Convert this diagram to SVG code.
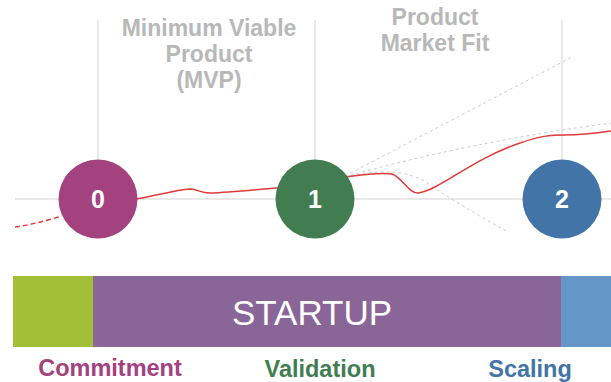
<svg xmlns="http://www.w3.org/2000/svg" width="611" height="382" viewBox="0 0 611 382">
<style>
.grid{stroke:#E2E2E2;stroke-width:1.5;fill:none}
.hint{stroke:#CCCCCC;stroke-width:1;stroke-dasharray:3 3;fill:none}
.curve{stroke:#E03A3A;stroke-width:1.5;fill:none}
.title{font-family:"Liberation Sans",Arial,sans-serif;font-weight:bold;font-size:23px;fill:#B8B8B8;text-anchor:middle}
.num{font-family:"Liberation Sans",Arial,sans-serif;font-weight:bold;font-size:25px;fill:#FFFFFF;text-anchor:middle}
.phase{font-family:"Liberation Sans",Arial,sans-serif;font-weight:bold;font-size:23.5px;text-anchor:middle}
</style>
<rect width="611" height="382" fill="#FFFFFF"/>
<g id="axes">
<line class="grid" x1="98" y1="20" x2="98" y2="199"/>
<line class="grid" x1="315" y1="20" x2="315" y2="199"/>
<line class="grid" x1="562" y1="20" x2="562" y2="199"/>
<line class="grid" x1="15" y1="199" x2="611" y2="199"/>
</g>
<g id="labels">
<text class="title" x="209" y="36">Minimum Viable</text>
<text class="title" x="209" y="62">Product</text>
<text class="title" x="209" y="88">(MVP)</text>
<text class="title" x="435" y="25">Product</text>
<text class="title" x="435" y="51">Market Fit</text>
</g>
<g id="connectors">
<path class="hint" d="M345 176 L572 57"/>
<path class="hint" d="M345 177 C420 155 520 135 611 123"/>
<path class="hint" d="M345 178 C380 168 410 170 430 185 C460 205 490 222 508 232"/>
<path class="curve" stroke-dasharray="5 3" d="M15 227 C30 225 45 221 62 216"/>
<path class="curve" d="M136 199 C155 196 175 190 190 189 C198 189 200 193 210 193 C235 192 260 189 300 186"/>
<path class="curve" d="M345 177 C360 175 380 172 392 174 C402 177 408 193 418 193 C440 190 470 160 520 143 C540 136 550 135 565 135 C580 135 590 134 611 131"/>
</g>
<g id="node0">
<circle cx="98" cy="199" r="39.5" fill="#A4417F"/>
<text class="num" x="98" y="208">0</text>
</g>
<g id="node1">
<circle cx="315" cy="199" r="39.5" fill="#417D50"/>
<text class="num" x="315" y="208">1</text>
</g>
<g id="node2">
<circle cx="562" cy="199" r="39.5" fill="#4274A8"/>
<text class="num" x="562" y="208">2</text>
</g>
<g id="bar">
<rect x="13" y="276" width="80" height="71" fill="#A3BF38"/>
<rect x="93" y="276" width="468" height="71" fill="#8A6597"/>
<rect x="561" y="276" width="50" height="71" fill="#6496C8"/>
<text x="312" y="325" font-family="'Liberation Sans',Arial,sans-serif" font-size="35" fill="#FFFFFF" text-anchor="middle">STARTUP</text>
</g>
<g id="phases">
<text class="phase" x="110" y="376" fill="#A4417F">Commitment</text>
<text class="phase" x="320" y="377" fill="#417D50">Validation</text>
<text class="phase" x="530" y="377" fill="#4274A8">Scaling</text>
</g>
</svg>
